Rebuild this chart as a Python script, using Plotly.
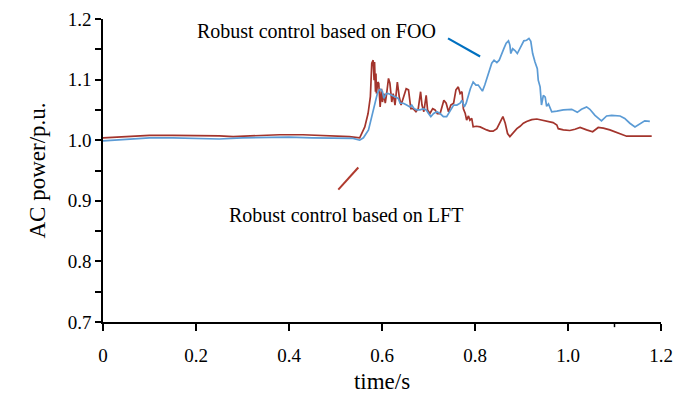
import plotly.graph_objects as go

# ---- data ----
t_foo = [0, 0.05, 0.10, 0.15, 0.20, 0.25, 0.30, 0.35, 0.40, 0.45, 0.51, 0.538, 0.552, 0.560,
         0.571, 0.578, 0.585, 0.590, 0.594, 0.597, 0.601, 0.604, 0.609, 0.614, 0.621, 0.628,
         0.635, 0.639, 0.646, 0.653, 0.660, 0.664, 0.669, 0.675, 0.682, 0.689, 0.695, 0.700,
         0.705, 0.711, 0.718, 0.725, 0.732, 0.739, 0.746, 0.754, 0.761, 0.768, 0.772, 0.777,
         0.781, 0.786, 0.790, 0.796, 0.802, 0.807, 0.812, 0.816, 0.821, 0.829, 0.836, 0.841,
         0.847, 0.852, 0.857, 0.862, 0.867, 0.872, 0.875, 0.877, 0.881, 0.886, 0.891, 0.895,
         0.900, 0.905, 0.911, 0.916, 0.920, 0.924, 0.929, 0.934, 0.936, 0.940, 0.943, 0.947,
         0.951, 0.954, 0.958, 0.961, 0.965, 0.976, 0.990, 1.008, 1.020, 1.029, 1.040, 1.047,
         1.058, 1.072, 1.083, 1.094, 1.112, 1.122, 1.133, 1.144, 1.155, 1.165, 1.176]
p_foo = [0.999, 1.002, 1.004, 1.004, 1.003, 1.002, 1.004, 1.005, 1.005, 1.004, 1.004, 1.003, 1.000, 1.004,
         1.017, 1.039, 1.061, 1.077, 1.083, 1.084, 1.080, 1.069, 1.077, 1.077, 1.074, 1.072,
         1.069, 1.061, 1.061, 1.058, 1.055, 1.058, 1.052, 1.050, 1.050, 1.052, 1.050, 1.044,
         1.039, 1.044, 1.047, 1.044, 1.039, 1.039, 1.047, 1.058, 1.058, 1.061, 1.066, 1.055,
         1.061, 1.077, 1.085, 1.096, 1.091, 1.091, 1.085, 1.081, 1.091, 1.110, 1.127, 1.132,
         1.128, 1.132, 1.143, 1.151, 1.160, 1.164, 1.157, 1.143, 1.151, 1.148, 1.143, 1.149,
         1.159, 1.164, 1.165, 1.168, 1.163, 1.143, 1.129, 1.118, 1.099, 1.088, 1.058, 1.074,
         1.071, 1.056, 1.060, 1.055, 1.047, 1.048, 1.050, 1.051, 1.046, 1.051, 1.055, 1.051,
         1.041, 1.032, 1.040, 1.041, 1.040, 1.036, 1.028, 1.022, 1.027, 1.032, 1.031]

t_lft = [0, 0.05, 0.10, 0.15, 0.20, 0.25, 0.28, 0.33, 0.38, 0.43, 0.48, 0.51, 0.530, 0.552,
         0.563, 0.570, 0.575, 0.578, 0.581, 0.583, 0.584, 0.586, 0.587, 0.588, 0.591, 0.593,
         0.596, 0.599, 0.601, 0.604, 0.607, 0.610, 0.614, 0.617, 0.621, 0.624, 0.628, 0.633,
         0.637, 0.641, 0.646, 0.652, 0.657, 0.662, 0.667, 0.673, 0.678, 0.683, 0.686, 0.690,
         0.695, 0.698, 0.703, 0.709, 0.714, 0.719, 0.725, 0.728, 0.733, 0.738, 0.743, 0.748,
         0.754, 0.759, 0.764, 0.768, 0.772, 0.775, 0.779, 0.782, 0.786, 0.789, 0.793, 0.796,
         0.803, 0.811, 0.818, 0.825, 0.832, 0.839, 0.847, 0.854, 0.860, 0.865, 0.870, 0.875,
         0.881, 0.890, 0.897, 0.904, 0.911, 0.922, 0.933, 0.943, 0.954, 0.968, 0.976, 0.979,
         0.990, 1.004, 1.015, 1.026, 1.040, 1.053, 1.065, 1.076, 1.090, 1.104, 1.119, 1.126,
         1.155, 1.180]
p_lft = [1.004, 1.006, 1.008, 1.008, 1.008, 1.007, 1.006, 1.008, 1.009, 1.009, 1.008, 1.007, 1.006, 1.004,
         1.022, 1.044, 1.072, 1.127, 1.132, 1.099, 1.129, 1.080, 1.110, 1.077, 1.096, 1.094,
         1.055, 1.085, 1.063, 1.077, 1.061, 1.077, 1.102, 1.094, 1.063, 1.077, 1.058, 1.096,
         1.072, 1.058, 1.072, 1.085, 1.083, 1.052, 1.052, 1.047, 1.052, 1.080, 1.058, 1.047,
         1.074, 1.050, 1.044, 1.052, 1.050, 1.044, 1.044, 1.052, 1.066, 1.061, 1.047, 1.058,
         1.061, 1.083, 1.088, 1.077, 1.080, 1.052, 1.044, 1.033, 1.040, 1.033, 1.036, 1.022,
         1.023, 1.022, 1.019, 1.017, 1.015, 1.015, 1.019, 1.030, 1.039, 1.028, 1.011, 1.006,
         1.011, 1.019, 1.023, 1.028, 1.031, 1.034, 1.035, 1.033, 1.031, 1.029, 1.025, 1.019,
         1.017, 1.016, 1.018, 1.021, 1.017, 1.014, 1.021, 1.020, 1.017, 1.013, 1.008, 1.0066,
         1.0066, 1.0066]

x_tickvals = [0, 0.2, 0.4, 0.6, 0.8, 1.0, 1.2]
x_ticktext = ["0", "0.2", "0.4", "0.6", "0.8", "1.0", "1.2"]
y_tickvals = [0.7, 0.8, 0.9, 1.0, 1.1, 1.2]
y_ticktext = ["0.7", "0.8", "0.9", "1.0", "1.1", "1.2"]

label_foo = "Robust control based on FOO"
label_lft = "Robust control based on LFT"

RED = "#A3342C"
BLUE = "#5B9BD5"
FONT = "Liberation Serif, Times New Roman, serif"

fig = go.Figure()
fig.add_trace(go.Scatter(x=t_lft, y=p_lft, mode="lines", name=label_lft,
                         line=dict(color=RED, width=1.7)))
fig.add_trace(go.Scatter(x=t_foo, y=p_foo, mode="lines", name=label_foo,
                         line=dict(color=BLUE, width=1.7)))

# annotation text and pointer lines
fig.add_annotation(x=0.459, y=1.18, xref="x", yref="y", text=label_foo, showarrow=False,
                   font=dict(family=FONT, size=20, color="black"))
fig.add_annotation(x=0.523, y=0.876, xref="x", yref="y", text=label_lft, showarrow=False,
                   font=dict(family=FONT, size=20, color="black"))
fig.add_shape(type="line", xref="x", yref="y", x0=0.742, y0=1.168, x1=0.811, y1=1.138,
              line=dict(color="#0070C0", width=2.2))
fig.add_shape(type="line", xref="x", yref="y", x0=0.506, y0=0.9185, x1=0.549, y1=0.955,
              line=dict(color="#B03A2E", width=2))
# minor tick at 1.1 on x axis
fig.add_shape(type="line", xref="x", yref="paper", x0=1.1, y0=0, x1=1.1, y1=-0.017,
              line=dict(color="black", width=1.5))

fig.update_layout(
    width=685, height=394,
    margin=dict(l=103, r=24, t=19, b=72),
    plot_bgcolor="white", paper_bgcolor="white",
    showlegend=False,
    font=dict(family=FONT, size=19, color="black"),
)
fig.update_xaxes(
    range=[0, 1.2], tickvals=x_tickvals, ticktext=x_ticktext,
    showline=True, linecolor="black", linewidth=1.5, mirror=False,
    ticks="outside", ticklen=7, tickwidth=1.5, tickcolor="black",
    showgrid=False, zeroline=False, ticklabelstandoff=8, automargin=False,
    title=dict(text="time/s", font=dict(family=FONT, size=23), standoff=9),
    tickfont=dict(family=FONT, size=19),
)
fig.update_yaxes(
    range=[0.7, 1.2], tickvals=y_tickvals, ticktext=y_ticktext,
    showline=True, linecolor="black", linewidth=1.5, mirror=False,
    ticks="outside", ticklen=6, tickwidth=1.5, tickcolor="black",
    minor=dict(dtick=0.05, tick0=0.7, ticks="outside", ticklen=6, tickwidth=1.5, tickcolor="black"),
    showgrid=False, zeroline=False, automargin=False,
    title=dict(text="AC power/p.u.", font=dict(family=FONT, size=23), standoff=16),
    tickfont=dict(family=FONT, size=19),
)

fig.write_html("out.html")
